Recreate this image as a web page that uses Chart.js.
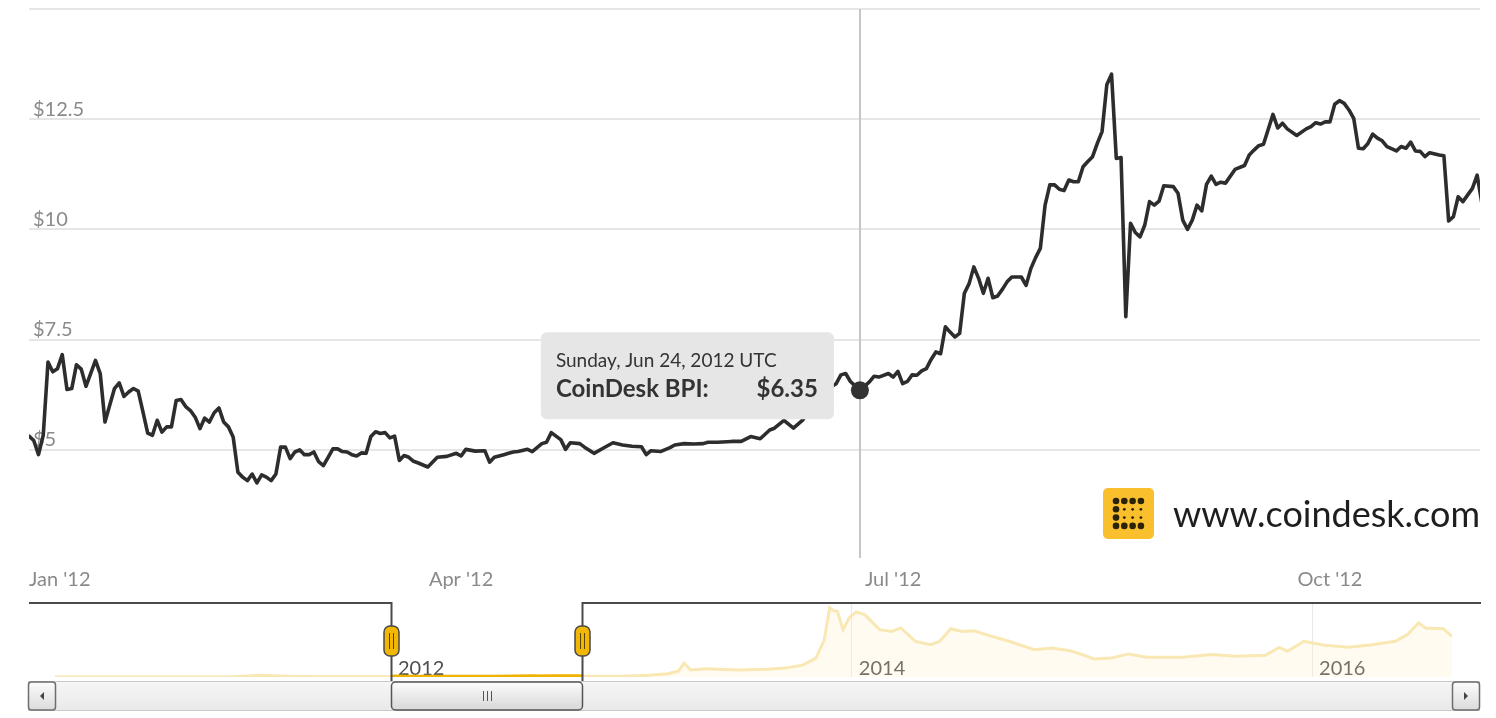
<!DOCTYPE html>
<html>
<head>
<meta charset="utf-8">
<script src="https://cdn.jsdelivr.net/npm/chart.js@4.4.0/dist/chart.umd.min.js"></script>
<style>
  html, body { margin: 0; padding: 0; background: #fff; overflow: hidden; }
  #wrap { position: relative; width: 1496px; height: 718px; }
  #main { position: absolute; left: 0; top: 0; }
  #nav { position: absolute; left: 0; top: 598px; }
</style>
</head>
<body>
<div id="wrap">
  <canvas id="main" width="1496" height="598"></canvas>
  <canvas id="nav" width="1496" height="120"></canvas>
</div>
<script>
// CoinDesk BPI, daily close (USD), Jan - Nov 2012
const bpiDates = [
  '2012-01-01','2012-01-02','2012-01-03','2012-01-04','2012-01-05','2012-01-06','2012-01-07','2012-01-08',
  '2012-01-09','2012-01-10','2012-01-11','2012-01-12','2012-01-13','2012-01-15','2012-01-16','2012-01-17',
  '2012-01-18','2012-01-19','2012-01-20','2012-01-21','2012-01-22','2012-01-23','2012-01-24','2012-01-25',
  '2012-01-26','2012-01-27','2012-01-28','2012-01-29','2012-01-30','2012-01-31','2012-02-01','2012-02-02',
  '2012-02-03','2012-02-04','2012-02-05','2012-02-06','2012-02-07','2012-02-08','2012-02-09','2012-02-10',
  '2012-02-11','2012-02-12','2012-02-13','2012-02-14','2012-02-15','2012-02-16','2012-02-17','2012-02-18',
  '2012-02-19','2012-02-20','2012-02-21','2012-02-22','2012-02-23','2012-02-24','2012-02-25','2012-02-26',
  '2012-02-27','2012-02-28','2012-02-29','2012-03-01','2012-03-02','2012-03-03','2012-03-04','2012-03-05',
  '2012-03-06','2012-03-07','2012-03-08','2012-03-09','2012-03-10','2012-03-11','2012-03-12','2012-03-13',
  '2012-03-14','2012-03-15','2012-03-16','2012-03-17','2012-03-18','2012-03-19','2012-03-20','2012-03-21',
  '2012-03-22','2012-03-23','2012-03-25','2012-03-27','2012-03-29','2012-03-31','2012-04-01','2012-04-02',
  '2012-04-04','2012-04-06','2012-04-07','2012-04-08','2012-04-10','2012-04-11','2012-04-12','2012-04-13',
  '2012-04-15','2012-04-16','2012-04-18','2012-04-19','2012-04-20','2012-04-22','2012-04-23','2012-04-24',
  '2012-04-26','2012-04-27','2012-04-29','2012-05-01','2012-05-03','2012-05-05','2012-05-07','2012-05-09',
  '2012-05-10','2012-05-11','2012-05-13','2012-05-15','2012-05-16','2012-05-18','2012-05-20','2012-05-22',
  '2012-05-23','2012-05-25','2012-05-28','2012-05-30','2012-06-01','2012-06-03','2012-06-05','2012-06-06',
  '2012-06-08','2012-06-10','2012-06-12','2012-06-14','2012-06-16','2012-06-19','2012-06-20','2012-06-21',
  '2012-06-22','2012-06-23','2012-06-24','2012-06-26','2012-06-27','2012-06-28','2012-06-30','2012-07-01',
  '2012-07-02','2012-07-03','2012-07-04','2012-07-05','2012-07-06','2012-07-07','2012-07-08','2012-07-09',
  '2012-07-10','2012-07-11','2012-07-12','2012-07-13','2012-07-14','2012-07-15','2012-07-16','2012-07-17',
  '2012-07-18','2012-07-19','2012-07-20','2012-07-21','2012-07-22','2012-07-23','2012-07-24','2012-07-25',
  '2012-07-26','2012-07-28','2012-07-29','2012-07-30','2012-07-31','2012-08-01','2012-08-02','2012-08-03',
  '2012-08-04','2012-08-05','2012-08-06','2012-08-07','2012-08-08','2012-08-09','2012-08-10','2012-08-11',
  '2012-08-12','2012-08-13','2012-08-14','2012-08-15','2012-08-16','2012-08-17','2012-08-18','2012-08-19',
  '2012-08-20','2012-08-21','2012-08-22','2012-08-23','2012-08-24','2012-08-25','2012-08-26','2012-08-27',
  '2012-08-29','2012-08-30','2012-08-31','2012-09-01','2012-09-02','2012-09-03','2012-09-04','2012-09-05',
  '2012-09-06','2012-09-07','2012-09-08','2012-09-09','2012-09-11','2012-09-13','2012-09-14','2012-09-15',
  '2012-09-16','2012-09-17','2012-09-19','2012-09-20','2012-09-21','2012-09-22','2012-09-24','2012-09-26',
  '2012-09-27','2012-09-28','2012-09-29','2012-09-30','2012-10-01','2012-10-02','2012-10-03','2012-10-04',
  '2012-10-05','2012-10-06','2012-10-07','2012-10-08','2012-10-09','2012-10-10','2012-10-11','2012-10-12',
  '2012-10-13','2012-10-15','2012-10-16','2012-10-17','2012-10-18','2012-10-19','2012-10-20','2012-10-21',
  '2012-10-22','2012-10-24','2012-10-25','2012-10-26','2012-10-27','2012-10-28','2012-10-29','2012-10-31',
  '2012-11-01','2012-11-02'
];
const bpiValues = [
  5.31, 5.21, 4.89, 5.33, 6.99, 6.77, 6.84, 7.16,
  6.37, 6.39, 6.93, 6.83, 6.44, 7.03, 6.73, 5.63,
  6.01, 6.39, 6.52, 6.21, 6.31, 6.39, 6.33, 5.86,
  5.38, 5.33, 5.67, 5.40, 5.52, 5.52, 6.12, 6.14,
  5.98, 5.89, 5.74, 5.48, 5.72, 5.63, 5.84, 5.95,
  5.63, 5.52, 5.29, 4.49, 4.38, 4.30, 4.45, 4.25,
  4.43, 4.38, 4.30, 4.45, 5.06, 5.06, 4.80, 4.95,
  5.00, 4.89, 4.89, 4.95, 4.73, 4.64, 4.83, 5.02,
  5.02, 4.96, 4.95, 4.89, 4.86, 4.93, 4.92, 5.30,
  5.41, 5.37, 5.39, 5.27, 5.31, 4.76, 4.87, 4.83,
  4.74, 4.70, 4.61, 4.83, 4.85, 4.92, 4.86, 5.01,
  4.97, 4.98, 4.72, 4.83, 4.89, 4.92, 4.95, 4.96,
  5.01, 4.96, 5.14, 5.17, 5.39, 5.23, 5.01, 5.16,
  5.14, 5.06, 4.92, 5.04, 5.16, 5.11, 5.08, 5.07,
  4.89, 4.98, 4.96, 5.05, 5.11, 5.14, 5.13, 5.14,
  5.17, 5.17, 5.19, 5.19, 5.30, 5.25, 5.45, 5.49,
  5.67, 5.49, 5.68, 6.00, 6.30, 6.50, 6.70, 6.73,
  6.55, 6.45, 6.35, 6.54, 6.67, 6.65, 6.73, 6.65,
  6.78, 6.50, 6.55, 6.70, 6.69, 6.79, 6.84, 7.05,
  7.22, 7.18, 7.79, 7.67, 7.56, 7.64, 8.55, 8.77,
  9.15, 8.89, 8.55, 8.89, 8.45, 8.49, 8.64, 8.81,
  8.92, 8.92, 8.73, 9.11, 9.36, 9.57, 10.55, 11.01,
  11.01, 10.91, 10.88, 11.12, 11.08, 11.08, 11.42, 11.54,
  11.65, 11.95, 12.22, 13.28, 13.52, 11.61, 11.63, 8.02,
  10.14, 9.93, 9.83, 10.10, 10.63, 10.55, 10.64, 10.99,
  10.97, 10.82, 10.21, 10.00, 10.21, 10.55, 10.42, 11.02,
  11.21, 11.02, 11.07, 11.05, 11.36, 11.45, 11.69, 11.80,
  11.90, 11.93, 12.61, 12.30, 12.41, 12.28, 12.13, 12.28,
  12.33, 12.42, 12.39, 12.44, 12.44, 12.84, 12.92, 12.86,
  12.71, 12.52, 11.84, 11.83, 11.95, 12.16, 12.07, 12.01,
  11.88, 11.78, 11.88, 11.84, 11.98, 11.78, 11.77, 11.65,
  11.74, 11.69, 11.67, 10.19, 10.29, 10.74, 10.63, 10.93,
  11.23, 10.59
];

// x axis of the main chart
const tickDates = ['2012-01-01', '2012-04-01', '2012-07-01', '2012-10-01'];
const tickLabels = ["Jan '12", "Apr '12", "Jul '12", "Oct '12"];
const viewStart = '2012-01-01';
const viewEnd = '2012-11-01';

// hovered point
const focusDate = '2012-06-24';

// navigator: full history, coarse
const navDates = [
  '2010-07-17','2010-11-01','2011-02-10','2011-04-20','2011-06-08','2011-07-20','2011-09-10','2011-11-20',
  '2011-12-31','2012-01-01','2012-01-08','2012-02-01','2012-02-20','2012-03-15','2012-04-15','2012-05-15',
  '2012-06-15','2012-07-15','2012-08-16','2012-08-19','2012-09-15','2012-10-03','2012-10-30','2012-12-31',
  '2013-02-13','2013-03-15','2013-04-01','2013-04-10','2013-04-20','2013-05-15','2013-07-04','2013-08-20',
  '2013-09-17','2013-10-15','2013-11-05','2013-11-18','2013-11-27','2013-12-03','2013-12-09','2013-12-18',
  '2013-12-28','2014-01-08','2014-01-22','2014-02-14','2014-03-05','2014-03-20','2014-04-12','2014-05-06',
  '2014-05-20','2014-06-07','2014-06-25','2014-07-14','2014-08-02','2014-09-09','2014-10-17','2014-11-14',
  '2014-12-13','2015-01-01','2015-01-20','2015-02-17','2015-03-16','2015-04-14','2015-06-09','2015-07-26',
  '2015-09-02','2015-10-19','2015-11-10','2015-11-23','2015-12-19','2016-01-21','2016-02-28','2016-04-05',
  '2016-05-12','2016-05-31','2016-06-18','2016-06-29','2016-07-27','2016-08-10'
];
const navValues = [
  0.05, 0.3, 1, 2, 30, 14, 6, 2.5,
  4.7, 5.3, 7.2, 6.1, 4.3, 5.4, 5.0, 5.05,
  6.2, 7.6, 13.5, 8.0, 11.8, 12.9, 10.7, 13.5,
  30, 55, 100, 235, 120, 140, 120, 130,
  150, 200, 320, 620, 1170, 1120, 1110, 800,
  1000, 1100, 1050, 800, 770, 830, 600, 545,
  600, 815, 770, 780, 715, 600, 460, 490,
  445, 380, 305, 320, 390, 333, 333, 380,
  350, 367, 500, 434, 603, 536, 502, 546,
  603, 715, 912, 828, 816, 688
];
const navYears = ['2012', '2014', '2016'];
const selStart = '2012-01-01';
const selEnd = '2012-10-30';

const FONT = 'Lato, "Open Sans", sans-serif';
Chart.defaults.font.family = FONT;

const dayOf = s => (Date.parse(s) - Date.parse('2012-01-01')) / 864e5;
const focusIndex = bpiDates.indexOf(focusDate);
const tickDays = tickDates.map(dayOf);

// crosshair under the line
const crosshair = {
  id: 'crosshair',
  beforeDatasetsDraw(chart) {
    const {ctx, chartArea: a, scales: {x}} = chart;
    const px = Math.round(x.getPixelForValue(dayOf(focusDate)));
    ctx.save();
    ctx.strokeStyle = '#c6c6c6';
    ctx.lineWidth = 2;
    ctx.beginPath();
    ctx.moveTo(px, a.top);
    ctx.lineTo(px, a.bottom - 2);
    ctx.stroke();
    ctx.restore();
  }
};

// fixed tooltip box at the hovered point
const fixedTooltip = {
  id: 'fixedTooltip',
  afterDatasetsDraw(chart) {
    const {ctx} = chart;
    const p = chart.getDatasetMeta(0).data[focusIndex];
    const w = 293, h = 87;
    const left = p.x - 26 - w, top = p.y - 58;
    const dateText = new Date(Date.parse(focusDate)).toLocaleDateString('en-US',
      {weekday: 'long', month: 'short', day: 'numeric', year: 'numeric', timeZone: 'UTC'}) + ' UTC';
    ctx.save();
    ctx.fillStyle = '#e6e6e6';
    ctx.beginPath();
    ctx.roundRect(left, top, w, h, 6);
    ctx.fill();
    ctx.fillStyle = '#333';
    ctx.textBaseline = 'alphabetic';
    ctx.font = '19px ' + FONT;
    ctx.fillText(dateText, left + 15, top + 35);
    ctx.font = 'bold 24px ' + FONT;
    ctx.fillText('CoinDesk BPI:', left + 15, top + 65);
    ctx.textAlign = 'right';
    ctx.fillText('$' + bpiValues[focusIndex].toFixed(2), left + w - 16, top + 65);
    ctx.restore();
  }
};

// coindesk watermark
const logo = {
  id: 'logo',
  afterDraw(chart) {
    const {ctx, chartArea: a} = chart;
    const text = 'www.coindesk.com';
    ctx.save();
    ctx.font = '36px ' + FONT;
    ctx.fillStyle = '#1e1e1e';
    ctx.textAlign = 'right';
    ctx.textBaseline = 'alphabetic';
    ctx.fillText(text, a.right, a.bottom - 33);
    const tw = ctx.measureText(text).width;
    const sx = a.right - tw - 19 - 51, sy = a.bottom - 72;
    ctx.fillStyle = '#f9bf2c';
    ctx.beginPath();
    ctx.roundRect(sx, sy, 51, 51, 5);
    ctx.fill();
    ctx.fillStyle = '#2a2308';
    for (let r = 0; r < 4; r++) {
      for (let c = 0; c < 4; c++) {
        const big = r === 0 || r === 3 || c === 0;
        ctx.beginPath();
        ctx.arc(sx + 13 + c * 8.3, sy + 13 + r * 8.3, big ? 3.3 : 1.4, 0, Math.PI * 2);
        ctx.fill();
      }
    }
    ctx.restore();
  }
};

new Chart(document.getElementById('main'), {
  type: 'line',
  data: {
    datasets: [{
      label: 'CoinDesk BPI',
      data: bpiDates.map((d, i) => ({x: dayOf(d), y: bpiValues[i]})),
      borderColor: '#2d2d2d',
      borderWidth: 3.6,
      borderJoinStyle: 'round',
      borderCapStyle: 'round',
      pointRadius: c => c.dataIndex === focusIndex ? 9 : 0,
      pointBackgroundColor: '#333',
      pointBorderWidth: 0,
      tension: 0
    }]
  },
  options: {
    responsive: false,
    animation: false,
    devicePixelRatio: 1,
    events: [],
    layout: {padding: {left: 29, right: 16, top: 9, bottom: 0}},
    plugins: {legend: {display: false}, tooltip: {enabled: false}},
    scales: {
      x: {
        type: 'linear',
        min: dayOf(viewStart),
        max: dayOf(viewEnd) + 0.6,
        afterFit: s => { s.height = 38; s.paddingLeft = 0; s.paddingRight = 0; },
        afterBuildTicks: s => {
          s.ticks = tickDays.map(v => ({value: v})).concat([{value: s.max}]);
        },
        grid: {display: false, drawTicks: false},
        border: {display: false},
        ticks: {
          align: 'inner',
          autoSkip: false,
          maxRotation: 0,
          padding: 8,
          color: '#8a8a8a',
          font: {size: 20},
          callback: v => {
            const i = tickDays.indexOf(v);
            return i < 0 ? '' : tickLabels[i];
          }
        }
      },
      y: {
        min: 2.5,
        max: 15,
        afterFit: s => { s.width = 0; s.paddingTop = 0; s.paddingBottom = 0; },
        border: {display: false},
        grid: {
          color: c => c.tick.value === 2.5 ? 'rgba(0,0,0,0)' : '#e6e6e6',
          lineWidth: 2,
          drawTicks: false
        },
        ticks: {
          stepSize: 2.5,
          mirror: true,
          padding: 4,
          labelOffset: -10,
          color: '#8a8a8a',
          font: {size: 20},
          callback: v => (v === 2.5 || v === 15) ? '' : '$' + v
        }
      }
    }
  },
  plugins: [crosshair, fixedTooltip, logo]
});

// navigator frame: outline, handles and scrollbar
const navigatorFrame = {
  id: 'navigatorFrame',
  afterDraw(chart) {
    const {ctx, chartArea: a, scales: {x}} = chart;
    const xL = Math.round(x.getPixelForValue(dayOf(selStart))) + 0.5;
    const xR = Math.round(x.getPixelForValue(dayOf(selEnd))) + 0.5;
    const left = a.left - 27, right = a.right + 28;
    const top = a.top, barTop = a.bottom + 4, barH = 30;

    const grad = (y0, y1, c0, c1) => {
      const g = ctx.createLinearGradient(0, y0, 0, y1);
      g.addColorStop(0, c0);
      g.addColorStop(1, c1);
      return g;
    };
    ctx.save();

    // track
    ctx.fillStyle = grad(barTop, barTop + barH, '#f6f6f6', '#e9e9e9');
    ctx.fillRect(left, barTop, right - left, barH);
    ctx.strokeStyle = '#c9c9c9';
    ctx.lineWidth = 1;
    ctx.strokeRect(left + 0.5, barTop + 0.5, right - left - 1, barH - 1);

    // arrow buttons
    const button = (bx, dir) => {
      ctx.beginPath();
      ctx.roundRect(bx + 0.5, barTop + 1, 27, barH - 2, 3);
      ctx.fillStyle = grad(barTop, barTop + barH, '#fdfdfd', '#dadada');
      ctx.fill();
      ctx.strokeStyle = '#6e6e6e';
      ctx.lineWidth = 1.5;
      ctx.stroke();
      const cx = bx + 14, cy = barTop + barH / 2;
      ctx.beginPath();
      ctx.moveTo(cx - 2 * dir, cy);
      ctx.lineTo(cx + 2 * dir, cy - 4);
      ctx.lineTo(cx + 2 * dir, cy + 4);
      ctx.closePath();
      ctx.fillStyle = '#444';
      ctx.fill();
    };
    button(left, 1);
    button(right - 28, -1);

    // thumb
    ctx.beginPath();
    ctx.roundRect(xL, barTop + 1, xR - xL, barH - 2, 4);
    ctx.fillStyle = grad(barTop, barTop + barH, '#fefefe', '#d6d6d6');
    ctx.fill();
    ctx.strokeStyle = '#555';
    ctx.lineWidth = 1.5;
    ctx.stroke();
    const mid = Math.round((xL + xR) / 2) + 0.5;
    ctx.beginPath();
    for (const dx of [-4, 0, 4]) {
      ctx.moveTo(mid + dx, barTop + 10);
      ctx.lineTo(mid + dx, barTop + 20);
    }
    ctx.strokeStyle = '#555';
    ctx.lineWidth = 1;
    ctx.stroke();

    // outline
    ctx.beginPath();
    ctx.moveTo(left + 1, top);
    ctx.lineTo(xL, top);
    ctx.lineTo(xL, barTop);
    ctx.moveTo(xR, barTop);
    ctx.lineTo(xR, top);
    ctx.lineTo(right + 1, top);
    ctx.strokeStyle = '#4a4a4a';
    ctx.lineWidth = 2;
    ctx.stroke();

    // handles
    const handle = hx => {
      ctx.beginPath();
      ctx.roundRect(hx - 7.5, top + 23, 15, 30, 6);
      ctx.fillStyle = '#f2b705';
      ctx.fill();
      ctx.strokeStyle = '#4a4a4a';
      ctx.lineWidth = 1.5;
      ctx.stroke();
      ctx.beginPath();
      ctx.moveTo(hx - 2, top + 30);
      ctx.lineTo(hx - 2, top + 46);
      ctx.moveTo(hx + 2, top + 30);
      ctx.lineTo(hx + 2, top + 46);
      ctx.strokeStyle = '#5b4500';
      ctx.lineWidth = 1;
      ctx.stroke();
    };
    handle(xL);
    handle(xR);
    ctx.restore();
  }
};

const navPoints = navDates.map((d, i) => ({x: dayOf(d), y: navValues[i]}));
const selPoints = navPoints.filter(p => p.x >= dayOf(selStart) && p.x <= dayOf(selEnd));

new Chart(document.getElementById('nav'), {
  type: 'line',
  data: {
    datasets: [{
      data: selPoints,
      borderColor: '#f0b400',
      borderWidth: 4,
      pointRadius: 0,
      fill: false,
      tension: 0
    }, {
      data: navPoints,
      borderColor: '#f9e8b4',
      borderWidth: 3,
      backgroundColor: 'rgba(255, 238, 190, 0.22)',
      fill: 'origin',
      pointRadius: 0,
      tension: 0
    }]
  },
  options: {
    responsive: false,
    animation: false,
    devicePixelRatio: 1,
    events: [],
    layout: {padding: {left: 55, right: 44, top: 5, bottom: 41}},
    plugins: {legend: {display: false}, tooltip: {enabled: false}},
    scales: {
      x: {
        type: 'linear',
        min: dayOf(navDates[0]),
        max: dayOf(navDates[navDates.length - 1]),
        afterFit: s => { s.height = 0; s.paddingLeft = 0; s.paddingRight = 0; },
        afterBuildTicks: s => {
          s.ticks = navYears.map(y => ({value: dayOf(y + '-01-01')}));
        },
        grid: {color: '#e9e9e9', lineWidth: 1, drawTicks: false},
        border: {display: false},
        ticks: {
          align: 'start',
          mirror: true,
          autoSkip: false,
          maxRotation: 0,
          padding: -4,
          labelOffset: 7,
          color: '#4f4f4f',
          font: {size: 20},
          callback: (v, i) => navYears[i]
        }
      },
      y: {display: false, min: 0, max: 1250}
    }
  },
  plugins: [navigatorFrame]
});
</script>
</body>
</html>
